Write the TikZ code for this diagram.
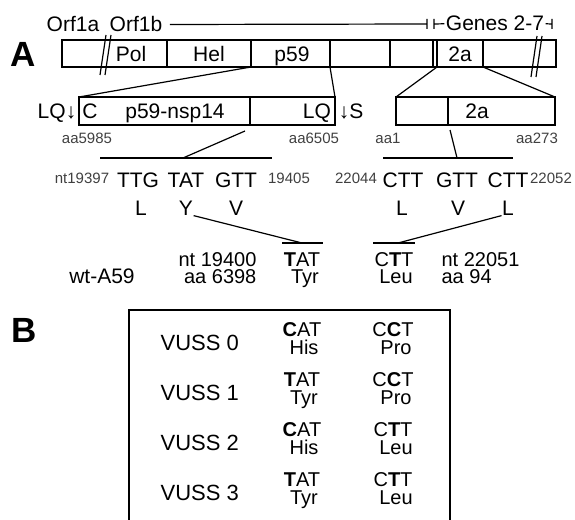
\documentclass[tikz,border=0pt]{standalone}
\usepackage{fontspec}
\setmainfont{Liberation Sans}
\usetikzlibrary{positioning}

\begin{document}
\begin{tikzpicture}[x=1pt,y=-1pt,line width=1.2pt,
  seg/.style={minimum height=27pt,inner sep=0pt,outer sep=0pt,text height=15pt,text depth=0pt,font=\fontsize{21}{21}\selectfont},
  sub/.style={draw,minimum height=28pt,inner sep=0pt,outer sep=0pt},
  txt/.style={font=\fontsize{21}{21}\selectfont,inner sep=0pt},
  two/.style={font=\fontsize{20}{20}\selectfont,inner sep=0pt},
  vuss/.style={font=\fontsize{22}{22}\selectfont,inner sep=0pt},
  num/.style={font=\fontsize{15}{15}\selectfont,inner sep=0pt,text=black!75},
  panel/.style={font=\fontsize{35}{35}\selectfont\bfseries,inner sep=0pt},
  divider/.style={line width=2.6pt}]
\useasboundingbox (0,0) rectangle (575,519);
% --- panel A: genome bar ---
\node[panel] (pa) at (23,54) {A};
\node[draw,minimum width=494pt,minimum height=27pt,inner sep=0pt,outer sep=0pt] (bar) at (309,53.5) {};
\node[seg] (pol) at (131,53.5) {Pol};
\node[seg,minimum width=84pt] (hel) at (209,53.5) {Hel};
\node[seg,minimum width=79pt] (p59) at (292,53.5) {p59};
\node[seg,minimum width=60pt] (blka) at (360,53.5) {};
\node[seg,minimum width=43pt] (blkb) at (411.5,53.5) {};
\node[seg,minimum width=4pt]  (gap) at (435,53.5) {};
\node[seg,minimum width=46pt] (twoa) at (460,53.5) {2a};
\foreach \s in {hel,blka,blkb,gap,twoa}
  \draw (\s.north west) -- (\s.south west);
\draw (hel.north east) -- (hel.south east);
\draw (twoa.north east) -- (twoa.south east);
% breaks
\draw (100,75) -- (106,35) (105,75) -- (111,35);
\draw (531,77) -- (537,36) (536,77) -- (542,36);
% --- gene labels above the bar ---
\node[txt,anchor=base] (orfa) at (73,32) {Orf1a};
\node[txt,anchor=base] (orfb) at (136,32) {Orf1b};
\node[txt,anchor=base] (genes) at (495,31) {Genes 2-7};
\coordinate (endb) at (427,24);
\coordinate (begg) at (434,24);
\coordinate (endg) at (552,24);
\draw ([xshift=7pt]orfb.east) -- (endb) ++(0,-5) -- ++(0,10);
\draw (begg) ++(0,-5) -- ++(0,10) (begg) -- ([xshift=-1pt]genes.west);
\draw ([xshift=1pt]genes.east) -- (endg) ++(0,-5) -- ++(0,10);
% --- enlarged proteins ---
\node[sub,minimum width=171pt] (nspl) at (164.5,111) {};
\node[sub,minimum width=85pt]  (nspr) at (292.5,111) {};
\node[sub,minimum width=52pt]  (tal) at (422,111) {};
\node[sub,minimum width=107pt] (tar) at (501.5,111) {};
\draw[divider] (nspl.north east) -- (nspl.south east);
\draw[divider] (tal.north east) -- (tal.south east);
\node[txt,anchor=base] (lql) at (57,118.5) {LQ↓};
\node[txt,anchor=base] (cterm) at (90,118.5) {C};
\node[txt,anchor=base] (nsp) at (175,118.5) {p59-nsp14};
\node[txt,anchor=base] (lqr) at (317,118.5) {LQ};
\node[txt,anchor=base] (cut) at (351,118.5) {↓S};
\node[txt,anchor=base] (ta) at (477,118.5) {2a};
\draw (hel.south east) -- (nspl.north west);
\draw (blka.south west) -- (nspr.north east);
\draw (twoa.south west) -- (tal.north west);
\draw (twoa.south east) -- (tar.north east);
\node[num,anchor=base] (aas) at (87,143) {aa5985};
\node[num,anchor=base] (aae) at (314,143) {aa6505};
\node[num,anchor=base] (aaone) at (388,143) {aa1};
\node[num,anchor=base] (aaend) at (537,143) {aa273};
% --- codons ---
\coordinate (hla) at (100,158);
\coordinate (hlb) at (272,158);
\coordinate (hlm) at (183,158);
\coordinate (cutl) at (245,131);
\coordinate (hra) at (383,158);
\coordinate (hrb) at (513,158);
\coordinate (hrm) at (457,158);
\coordinate (cutr) at (450,130);
\draw (hla) -- (hlb);
\draw (hlm) -- (cutl);
\draw (hra) -- (hrb);
\draw (hrm) -- (cutr);
\node[num,anchor=base] (nta) at (82,183) {nt19397};
\node[txt,anchor=base] (ttg) at (138,187) {TTG};
\node[txt,anchor=base] (tat) at (186,187) {TAT};
\node[txt,anchor=base] (gtt) at (236,187) {GTT};
\node[num,anchor=base] (ntb) at (289,183) {19405};
\node[num,anchor=base] (ntc) at (356,183) {22044};
\node[txt,anchor=base] (ctta) at (403,187) {CTT};
\node[txt,anchor=base] (gttb) at (457,187) {GTT};
\node[txt,anchor=base] (cttb) at (508,187) {CTT};
\node[num,anchor=base] (ntd) at (551,183) {22052};
\node[txt,anchor=base] (ll) at (141,215) {L};
\node[txt,anchor=base] (yl) at (186,215) {Y};
\node[txt,anchor=base] (vl) at (236,215) {V};
\node[txt,anchor=base] (lr) at (402,215) {L};
\node[txt,anchor=base] (vr) at (458,215) {V};
\node[txt,anchor=base] (lrr) at (508,215) {L};
% --- wild type ---
\coordinate (ola) at (282,243);
\coordinate (olb) at (323,243);
\coordinate (olm) at (302,243);
\coordinate (ora) at (373,243);
\coordinate (orb) at (415,243);
\coordinate (orm) at (398,243);
\draw (ola) -- (olb);
\draw (yl.south east) -- (olm);
\draw (ora) -- (orb);
\draw (lrr.south west) -- (orm);
\node[txt,anchor=base] (wt) at (102,283) {wt-A59};
\node[two,anchor=base east] (ntl) at (257,266) {nt 19400};
\node[two,anchor=base east] (aal) at (257,283) {aa 6398};
\node[two,anchor=base] (wtc) at (302,266) {\textbf{T}AT};
\node[two,anchor=base] (wta) at (305,283) {Tyr};
\node[two,anchor=base] (wtd) at (394,266) {C\textbf{T}T};
\node[two,anchor=base] (wtb) at (396,283) {Leu};
\node[two,anchor=base west] (ntr) at (441,266) {nt 22051};
\node[two,anchor=base west] (aar) at (441,283) {aa 94};
% --- panel B: viruses ---
\node[panel] (pb) at (24,330) {B};
\draw[line width=1.8pt] (129,520) |- (450,310) -- (450,520);
\foreach \k/\ca/\aa/\cb/\ab in {0/\textbf{C}AT/His/C\textbf{C}T/Pro,
    1/\textbf{T}AT/Tyr/C\textbf{C}T/Pro,
    2/\textbf{C}AT/His/C\textbf{T}T/Leu,
    3/\textbf{T}AT/Tyr/C\textbf{T}T/Leu}{
  \node[vuss,anchor=base west] (v\k) at (160,{350+50*\k}) {VUSS \k};
  \node[two,anchor=base] (ca\k) at (302,{336+50*\k}) {\ca};
  \node[two,anchor=base] (aa\k) at (304,{354+50*\k}) {\aa};
  \node[two,anchor=base] (cb\k) at (393,{336+50*\k}) {\cb};
  \node[two,anchor=base] (ab\k) at (396,{354+50*\k}) {\ab};
}
\end{tikzpicture}
\end{document}
